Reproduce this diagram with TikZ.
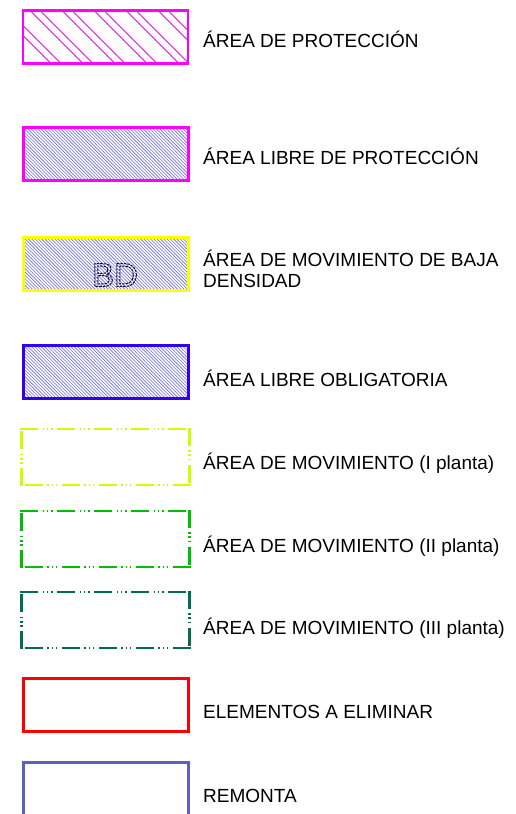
\documentclass[tikz,border=0pt]{standalone}
\usepackage{fontspec}
\setmainfont{Liberation Sans}

\definecolor{magentaline}{RGB}{255,0,255}
\definecolor{hatchblue}{RGB}{110,110,230}
\definecolor{bdyellow}{RGB}{255,255,0}
\definecolor{bdnavy}{RGB}{10,10,50}
\definecolor{oblblue}{RGB}{51,0,238}
\definecolor{plantaone}{RGB}{204,255,0}
\definecolor{plantatwo}{RGB}{0,190,0}
\definecolor{plantathree}{RGB}{0,110,80}
\definecolor{elimred}{RGB}{255,0,0}
\definecolor{remontacol}{RGB}{95,95,195}

\tikzset{
  legbox/.style={minimum width=165pt, minimum height=53pt, inner sep=0pt, line width=3pt},
  legtext/.style={anchor=base west, inner sep=0pt, align=left, font=\fontsize{19}{21}\selectfont},
  densehatch/.style={path picture={
      \foreach \c in {-56,-52.7,...,168}
        \draw[hatchblue, line width=0.6pt] ([xshift=\c pt]path picture bounding box.north west) -- ++(56pt,-56pt);
  }},
  widehatch/.style={path picture={
      \foreach \c in {-25,7,...,135} {
        \draw[magentaline, line width=0.9pt] ([xshift=\c pt]path picture bounding box.north west) -- ++(56pt,-56pt);
        \draw[magentaline, line width=0.9pt] ([xshift={(\c+10)*1pt}]path picture bounding box.north west) -- ++(56pt,-56pt);
      }
  }},
  movline/.style={line width=2.5pt, dash pattern=on 18pt off 4.5pt on 1.4pt off 2.8pt on 1.4pt off 2.8pt on 1.4pt off 4.7pt},
}

% dash-dot frame, pattern restarts at every corner
\newcommand{\movframe}[2]{%
  \draw[movline, #2] ([xshift=-1.25pt]#1.north west) -- ([xshift=1.25pt]#1.north east)
    ([yshift=1.25pt]#1.north east) -- ([yshift=-1.25pt]#1.south east)
    ([xshift=1.25pt]#1.south east) -- ([xshift=-1.25pt]#1.south west)
    ([yshift=-1.25pt]#1.south west) -- ([yshift=1.25pt]#1.north west);}

\begin{document}
\begin{tikzpicture}[x=1pt,y=-1pt]
  \useasboundingbox (0,0) rectangle (515,814);
  \clip (0,0) rectangle (515,814);

  \node[legbox, draw=magentaline, line width=2.5pt, widehatch] (prot) at (105.5,37) {};
  \node[legtext] (protlbl) at (203,47.6) {ÁREA DE PROTECCIÓN};

  \node[legbox, draw=magentaline, densehatch] (libprot) at (105.5,154) {};
  \node[legtext] (libprotlbl) at (203,164.6) {ÁREA LIBRE DE PROTECCIÓN};

  \node[legbox, draw=bdyellow, densehatch] (bajad) at (105.5,263.5) {};
  \node[text=bdnavy, inner sep=0pt, font=\fontsize{33}{33}\selectfont] (bdtxt) at (115,275)
    {\special{pdf:literal direct 0.04 0.04 0.2 RG [2.5 1] 0 d 1 w 1 Tr}BD\special{pdf:literal direct [] 0 d 0 Tr}};
  \node[legtext] (bajadlbl) at (203,287.6) {ÁREA DE MOVIMIENTO DE BAJA\\DENSIDAD};

  \node[legbox, draw=oblblue, densehatch] (oblig) at (105.5,371.5) {};
  \node[legtext] (obliglbl) at (203,386.6) {ÁREA LIBRE OBLIGATORIA};

  \node[legbox] (movone) at (105.5,457) {};
  \movframe{movone}{plantaone}
  \node[legtext] (movonelbl) at (203,469.6) {ÁREA DE MOVIMIENTO (I planta)};

  \node[legbox] (movtwo) at (105.5,539) {};
  \movframe{movtwo}{plantatwo}
  \node[legtext] (movtwolbl) at (203,552.6) {ÁREA DE MOVIMIENTO (II planta)};

  \node[legbox] (movthree) at (105.5,620) {};
  \movframe{movthree}{plantathree}
  \node[legtext] (movthreelbl) at (203,634.6) {ÁREA DE MOVIMIENTO (III planta)};

  \node[legbox, draw=elimred] (elim) at (105.5,704.5) {};
  \node[legtext] (elimlbl) at (203,718.6) {ELEMENTOS A ELIMINAR};

  \node[legbox, draw=remontacol] (remonta) at (105.5,788.5) {};
  \node[legtext] (remontalbl) at (203,802.6) {REMONTA};
\end{tikzpicture}
\end{document}
